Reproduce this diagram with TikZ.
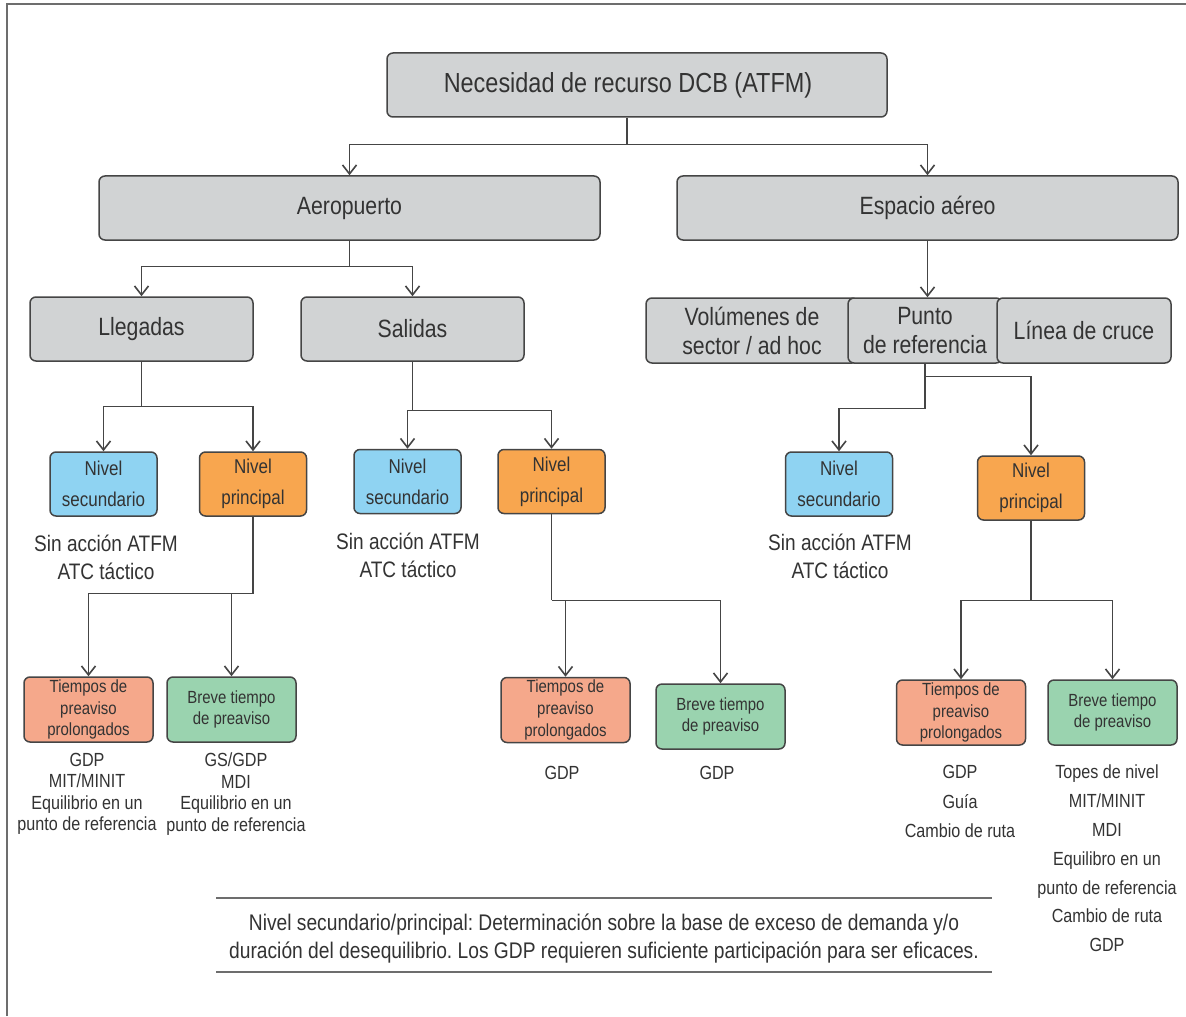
\documentclass[tikz,border=0pt]{standalone}
\usepackage{fontspec}
\setmainfont[FakeStretch=0.85]{Liberation Sans}
\usetikzlibrary{arrows.meta}
\definecolor{gfill}{HTML}{D1D3D4}
\definecolor{bfill}{HTML}{8FD3F2}
\definecolor{ofill}{HTML}{F8A64F}
\definecolor{sfill}{HTML}{F5A88B}
\definecolor{tfill}{HTML}{9AD3AF}
\definecolor{linec}{HTML}{454545}
\definecolor{txt}{HTML}{333333}
\definecolor{framec}{HTML}{6D6D6D}
\newcommand\myfs[2]{\fontsize{#1}{#2}\selectfont}
\frenchspacing
\tikzset{
  box/.style={draw=linec, line width=0.75pt, rounded corners=3pt, inner sep=0pt, align=center, text=txt},
  gbox/.style={box, fill=gfill, minimum height=32pt, font=\myfs{12.5}{14.5}},
  nbox/.style={box, minimum width=53.5pt, minimum height=32pt, font=\myfs{10}{15.5}},
  sbox/.style={box, minimum width=64.5pt, minimum height=32.5pt, font=\myfs{8.8}{10.8}},
  conn/.style={draw=linec, line width=0.7pt},
  arr/.style={conn, -{Straight Barb[length=4.5pt,width=7pt,line width=0.8pt]}},
  plain/.style={align=center, text=txt, inner sep=0pt}
}
\begin{document}
\begin{tikzpicture}[x=0.5pt,y=-0.5pt]
\useasboundingbox (0,0) rectangle (1186,1016);
\fill[white] (0,0) rectangle (1186,1016);
\draw[framec, line width=1pt] (7,1016) -- (7,4) -- (1186,4);

% level 0
\node[gbox, minimum width=250pt, font=\myfs{13.8}{16}] (top) at (637,85) {Necesidad de recurso DCB (ATFM)\hspace*{9pt}};
% level 1
\node[gbox, minimum width=250.5pt] (aero) at (349.5,208) {Aeropuerto};
\node[gbox, minimum width=250.5pt] (esp) at (927.5,208) {Espacio aéreo};
% level 2
\node[gbox, minimum width=111.5pt] (lleg) at (141.5,329) {Llegadas};
\node[gbox, minimum width=111.5pt] (sal) at (412.5,329) {Salidas};
\node[gbox, minimum width=106pt, minimum height=32.5pt] (vol) at (752,330.5) {Volúmenes de\\sector / ad hoc};
\node[gbox, minimum width=77pt, minimum height=32.5pt] (punto) at (925,330.5) {Punto\\de referencia};
\node[gbox, minimum width=87pt, minimum height=32.5pt] (linea) at (1084,330.5) {Línea de cruce};
% level 3
\node[nbox, fill=bfill] (ls) at (103.5,484) {Nivel\\secundario};
\node[nbox, fill=ofill] (lp) at (253,484) {Nivel\\principal};
\node[nbox, fill=bfill] (ms) at (407.5,481.5) {Nivel\\secundario};
\node[nbox, fill=ofill] (mp) at (551.5,481.5) {Nivel\\principal};
\node[nbox, fill=bfill] (rs) at (839,484) {Nivel\\secundario};
\node[nbox, fill=ofill] (rp) at (1031,488) {Nivel\\principal};
% level 4
\node[sbox, fill=sfill] (lt) at (88.5,709.5) {Tiempos de\\preaviso\\prolongados};
\node[sbox, fill=tfill] (lb) at (231.5,709.5) {Breve tiempo\\de preaviso};
\node[sbox, fill=sfill] (mt) at (565.5,710) {Tiempos de\\preaviso\\prolongados};
\node[sbox, fill=tfill] (mb) at (720.5,716.5) {Breve tiempo\\de preaviso};
\node[sbox, fill=sfill] (rt) at (961,712.5) {Tiempos de\\preaviso\\prolongados};
\node[sbox, fill=tfill] (rb) at (1112.5,712.5) {Breve tiempo\\de preaviso};

% free texts
\node[plain, font=\myfs{11.2}{14}] (lsx) at (106,557) {Sin acción ATFM\\ATC táctico};
\node[plain, font=\myfs{11.2}{14}] (msx) at (408,555) {Sin acción ATFM\\ATC táctico};
\node[plain, font=\myfs{11.2}{14}] (rsx) at (840,556) {Sin acción ATFM\\ATC táctico};
\node[plain, font=\myfs{9.5}{10.7}] (ltx) at (87,794) {GDP\\MIT/MINIT\\Equilibrio en un\\punto de referencia};
\node[plain, font=\myfs{9.5}{10.7}] (lbx) at (236,794) {GS/GDP\\MDI\\Equilibrio en un\\punto de referencia};
\node[plain, font=\myfs{9.5}{10.7}] (mtx) at (562,773) {GDP};
\node[plain, font=\myfs{9.5}{10.7}] (mbx) at (717,773) {GDP};
\node[plain, font=\myfs{9.5}{14.7}] (rtx) at (960,801.5) {GDP\\Guía\\Cambio de ruta};
\node[plain, font=\myfs{9.5}{14.4}] (rbx) at (1107,858.5) {Topes de nivel\\MIT/MINIT\\MDI\\Equilibro en un\\punto de referencia\\Cambio de ruta\\GDP};

% bottom note
\coordinate (n1) at (216,898);
\coordinate (n2) at (992,898);
\coordinate (n3) at (216,972);
\coordinate (n4) at (992,972);
\draw[framec, line width=1pt] (n1) -- (n2);
\draw[framec, line width=1pt] (n3) -- (n4);
\node[plain, font=\myfs{11.3}{14}] (note) at (604,939) {Nivel secundario/principal: Determinación sobre la base de exceso de demanda y/o\\duración del desequilibrio. Los GDP requieren suficiente participación para ser eficaces.};

% connectors
\draw[conn] ([xshift=-5pt]top.south) -- ++(0,27) coordinate (t1);
\draw[arr] (t1) -| (aero.north);
\draw[arr] (t1) -| (esp.north);

\draw[conn] (aero.south) -- ++(0,26) coordinate (a1);
\draw[arr] (a1) -| (lleg.north);
\draw[arr] (a1) -| (sal.north);

\draw[arr] (esp.south) -- (esp.south |- punto.north);

\draw[conn] (lleg.south) -- ++(0,45) coordinate (l1);
\draw[arr] (l1) -| (ls.north);
\draw[arr] (l1) -| (lp.north);

\draw[conn] (sal.south) -- ++(0,49) coordinate (s1);
\draw[arr] (s1) -| (ms.north);
\draw[arr] (s1) -| (mp.north);

\draw[conn] (punto.south) -- ++(0,13) coordinate (p1);
\draw[arr] (p1) -| (rp.north);
\draw[conn] (p1) -- ++(0,32) coordinate (p2);
\draw[arr] (p2) -| (rs.north);

\draw[conn] (lp.south) -- ++(0,77) coordinate (lp1);
\draw[arr] (lp1) -| (lt.north);
\draw[arr] (lp1 -| lb.north) -- (lb.north);

\draw[conn] (mp.south) -- ++(0,86) coordinate (mp1);
\draw[arr] (mp1) -| (mb.north);
\draw[arr] (mp1 -| mt.north) -- (mt.north);

\draw[conn] (rp.south) -- ++(0,80) coordinate (rp1);
\draw[arr] (rp1) -| (rt.north);
\draw[arr] (rp1) -| (rb.north);
\end{tikzpicture}
\end{document}
